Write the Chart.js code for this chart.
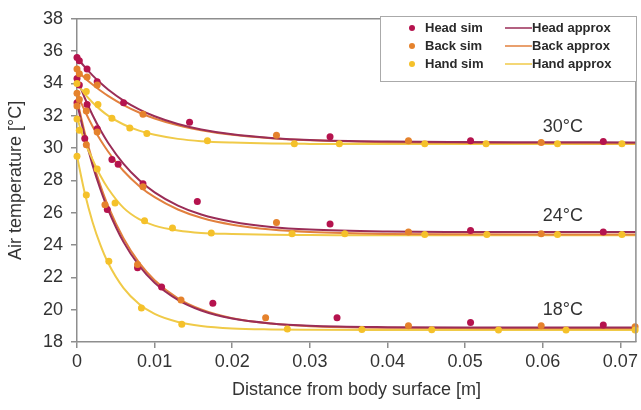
<!DOCTYPE html>
<html>
<head>
<meta charset="utf-8">
<script src="https://cdn.jsdelivr.net/npm/chart.js@4.4.0/dist/chart.umd.min.js"></script>
<style>
  html, body { margin: 0; padding: 0; background: #fff; }
</style>
</head>
<body>
<canvas id="tempChart" width="641" height="410"></canvas>
<script>
// simulated points, [distance m, temperature °C], one list per body part and ambient
const headSim30 = [[0, 35.6], [0.0003, 35.4], [0.0013, 34.9], [0.0026, 34.1], [0.006, 32.8], [0.0145, 31.6], [0.0326, 30.7], [0.0507, 30.45], [0.0678, 30.4]];
const headSim24 = [[0, 34.3], [0.0003, 33.9], [0.0013, 32.7], [0.0026, 31.2], [0.0045, 29.3], [0.0053, 29.0], [0.0085, 27.8], [0.0155, 26.7], [0.0326, 25.3], [0.0507, 24.9], [0.0678, 24.8]];
const headSim18 = [[0, 32.8], [0.001, 30.6], [0.0039, 26.2], [0.0078, 22.6], [0.0109, 21.4], [0.0175, 20.4], [0.0335, 19.5], [0.0507, 19.2], [0.0678, 19.05]];

const backSim30 = [[0, 34.9], [0.0003, 34.6], [0.0013, 34.4], [0.0026, 33.9], [0.0085, 32.1], [0.0257, 30.8], [0.0427, 30.45], [0.0598, 30.35]];
const backSim24 = [[0, 33.4], [0.0003, 33.0], [0.0012, 32.3], [0.0026, 31.0], [0.0085, 27.6], [0.0257, 25.4], [0.0427, 24.8], [0.0598, 24.7]];
const backSim18 = [[0, 32.6], [0.0012, 30.2], [0.0036, 26.5], [0.0078, 22.8], [0.0134, 20.6], [0.0243, 19.5], [0.0427, 19.0], [0.0598, 19.0], [0.0719, 18.95]];

const handSim30 = [[0, 34.0], [0.0012, 33.5], [0.0027, 32.7], [0.0045, 31.85], [0.0068, 31.25], [0.009, 30.9], [0.0168, 30.45], [0.028, 30.27], [0.0338, 30.27], [0.0448, 30.27], [0.0527, 30.27], [0.0619, 30.27], [0.0702, 30.27]];
const handSim24 = [[0, 31.8], [0.0003, 31.1], [0.0026, 28.7], [0.0049, 26.6], [0.0087, 25.5], [0.0123, 25.05], [0.0173, 24.75], [0.0277, 24.7], [0.0345, 24.7], [0.0448, 24.65], [0.0528, 24.65], [0.0619, 24.65], [0.0702, 24.65]];
const handSim18 = [[0, 29.5], [0.0012, 27.1], [0.0041, 23.0], [0.0083, 20.1], [0.0135, 19.1], [0.0271, 18.8], [0.0367, 18.78], [0.0457, 18.76], [0.0543, 18.75], [0.063, 18.75], [0.0719, 18.75]];

// approximation curves, read at these distances
const approxX = [0, 0.001, 0.002, 0.003, 0.004, 0.006, 0.008, 0.01, 0.013, 0.016, 0.02, 0.025, 0.03, 0.04, 0.05, 0.06, 0.072];
const headApprox30 = [35.6, 35.02, 34.5, 34.04, 33.63, 32.94, 32.4, 31.97, 31.49, 31.15, 30.85, 30.63, 30.5, 30.4, 30.37, 30.36, 30.35];
const backApprox30 = [34.8, 34.34, 33.93, 33.56, 33.23, 32.66, 32.2, 31.83, 31.41, 31.11, 30.82, 30.61, 30.48, 30.36, 30.32, 30.31, 30.3];
const handApprox30 = [34.0, 33.35, 32.82, 32.38, 32.01, 31.46, 31.08, 30.82, 30.57, 30.43, 30.34, 30.28, 30.26, 30.25, 30.25, 30.25, 30.25];
const headApprox24 = [34.3, 33.1, 32.05, 31.13, 30.33, 29.02, 28.02, 27.26, 26.44, 25.89, 25.44, 25.12, 24.96, 24.84, 24.81, 24.8, 24.8];
const backApprox24 = [33.4, 32.31, 31.35, 30.51, 29.79, 28.58, 27.66, 26.96, 26.2, 25.69, 25.26, 24.96, 24.81, 24.69, 24.66, 24.65, 24.65];
const handApprox24 = [31.9, 30.4, 29.3, 28.3, 27.5, 26.3, 25.6, 25.2, 24.9, 24.75, 24.68, 24.63, 24.62, 24.6, 24.6, 24.6, 24.6];
const headApprox18 = [32.8, 30.73, 28.96, 27.47, 26.2, 24.18, 22.73, 21.67, 20.61, 19.95, 19.45, 19.15, 19.01, 18.92, 18.9, 18.9, 18.9];
const backApprox18 = [33.0, 30.95, 29.21, 27.71, 26.42, 24.4, 22.91, 21.82, 20.7, 20.01, 19.47, 19.14, 18.98, 18.88, 18.86, 18.85, 18.85];
const handApprox18 = [29.5, 27.22, 25.43, 24.02, 22.9, 21.33, 20.35, 19.74, 19.24, 18.99, 18.84, 18.78, 18.76, 18.75, 18.75, 18.75, 18.75];

// ambient temperature labels: text, x, y in data units
const ambientLabels = [["30°C", 0.0626, 31.3], ["24°C", 0.0626, 25.8], ["18°C", 0.0626, 20.0]];

const simNames = ["Head sim", "Back sim", "Hand sim"];
const approxNames = ["Head approx", "Back approx", "Hand approx"];

const color = {
  head: '#b5134e',
  back: '#e5822c',
  hand: '#f5c12a',
  headLine: '#9a2d57',
  backLine: '#e2803e',
  handLine: '#f0ca48',
};

const FONT = '"Liberation Sans", Arial, sans-serif';

function simSet(label, pts, col) {
  return {
    type: 'scatter',
    label: label,
    data: pts.map(p => ({ x: p[0], y: p[1] })),
    backgroundColor: col,
    borderColor: col,
    pointRadius: 3.5,
    pointBorderWidth: 0,
    showLine: false,
    clip: false,
    order: 0,
  };
}

function approxSet(label, ys, col) {
  return {
    type: 'line',
    label: label,
    data: approxX.map((x, i) => ({ x: x, y: ys[i] })),
    borderColor: col,
    backgroundColor: col,
    borderWidth: 2,
    pointRadius: 0,
    fill: false,
    cubicInterpolationMode: 'monotone',
    order: 1,
  };
}

const datasets = [
  approxSet("Head approx", headApprox30, color.headLine),
  approxSet("Back approx", backApprox30, color.backLine),
  approxSet("Hand approx", handApprox30, color.handLine),
  approxSet("Head approx", headApprox24, color.headLine),
  approxSet("Back approx", backApprox24, color.backLine),
  approxSet("Hand approx", handApprox24, color.handLine),
  approxSet("Head approx", headApprox18, color.headLine),
  approxSet("Back approx", backApprox18, color.backLine),
  approxSet("Hand approx", handApprox18, color.handLine),
  simSet("Hand sim", handSim30, color.hand),
  simSet("Hand sim", handSim24, color.hand),
  simSet("Hand sim", handSim18, color.hand),
  simSet("Back sim", backSim30, color.back),
  simSet("Back sim", backSim24, color.back),
  simSet("Back sim", backSim18, color.back),
  simSet("Head sim", headSim30, color.head),
  simSet("Head sim", headSim24, color.head),
  simSet("Head sim", headSim18, color.head),
];

// frame, ambient labels and the two-column legend
const extrasPlugin = {
  id: 'extras',
  afterDraw(chart) {
    const { ctx, chartArea: a, scales } = chart;
    ctx.save();
    ctx.strokeStyle = '#8e8e8e';
    ctx.lineWidth = 1.5;
    ctx.beginPath();
    ctx.moveTo(a.left, a.top);
    ctx.lineTo(a.right, a.top);
    ctx.lineTo(a.right, a.bottom);
    ctx.stroke();

    ctx.font = '18px ' + FONT;
    ctx.fillStyle = '#333';
    ctx.textAlign = 'center';
    ctx.textBaseline = 'middle';
    ambientLabels.forEach(l => {
      ctx.fillText(l[0], scales.x.getPixelForValue(l[1]), scales.y.getPixelForValue(l[2]));
    });

    // legend box
    ctx.fillStyle = '#fff';
    ctx.fillRect(381, 17, 255, 64);
    ctx.strokeStyle = '#aaa';
    ctx.lineWidth = 1;
    ctx.strokeRect(380.5, 16.5, 256, 65);

    const cols = [color.head, color.back, color.hand];
    const lineCols = [color.headLine, color.backLine, color.handLine];
    ctx.font = 'bold 13px ' + FONT;
    ctx.textAlign = 'left';
    for (let i = 0; i < 3; i++) {
      const yy = 28 + i * 18;
      ctx.fillStyle = cols[i];
      ctx.beginPath();
      ctx.arc(412, yy, 3, 0, Math.PI * 2);
      ctx.fill();
      ctx.fillStyle = '#2a2a2a';
      ctx.fillText(simNames[i], 425, yy);

      ctx.strokeStyle = lineCols[i];
      ctx.lineWidth = 1.5;
      ctx.beginPath();
      ctx.moveTo(505, yy);
      ctx.lineTo(532, yy);
      ctx.stroke();
      ctx.fillStyle = '#2a2a2a';
      ctx.fillText(approxNames[i], 532, yy);
    }
    ctx.restore();
  }
};

const tempChart = new Chart(document.getElementById('tempChart'), {
  type: 'scatter',
  data: { datasets: datasets },
  options: {
    responsive: false,
    animation: false,
    devicePixelRatio: 1,
    layout: { padding: { top: 16, right: 4, left: 0, bottom: 0 } },
    plugins: {
      legend: { display: false },
      tooltip: { enabled: false },
    },
    scales: {
      x: {
        type: 'linear',
        min: 0,
        max: 0.072,
        afterFit: s => { s.height = 68; },
        ticks: {
          stepSize: 0.01,
          includeBounds: false,
          padding: 3,
          color: '#333',
          font: { family: FONT, size: 18 },
          callback: v => String(Number(v.toFixed(2))),
        },
        grid: { drawOnChartArea: false, drawTicks: true, tickLength: 6, color: '#8e8e8e', lineWidth: 1.5 },
        border: { color: '#8e8e8e', width: 1.5 },
        title: {
          display: true,
          text: 'Distance from body surface [m]',
          color: '#333',
          font: { family: FONT, size: 18 },
          padding: { top: 0, bottom: 9 },
        },
      },
      y: {
        min: 18,
        max: 38,
        afterFit: s => { s.width = 77; },
        ticks: {
          stepSize: 2,
          padding: 8,
          color: '#333',
          font: { family: FONT, size: 18 },
        },
        grid: { drawOnChartArea: false, drawTicks: true, tickLength: 6, color: '#8e8e8e', lineWidth: 1.5 },
        border: { color: '#8e8e8e', width: 1.5 },
        title: {
          display: true,
          text: 'Air temperature [°C]',
          color: '#333',
          font: { family: FONT, size: 18 },
          padding: { top: 5, bottom: 0 },
        },
      },
    },
  },
  plugins: [extrasPlugin],
});
</script>
</body>
</html>
